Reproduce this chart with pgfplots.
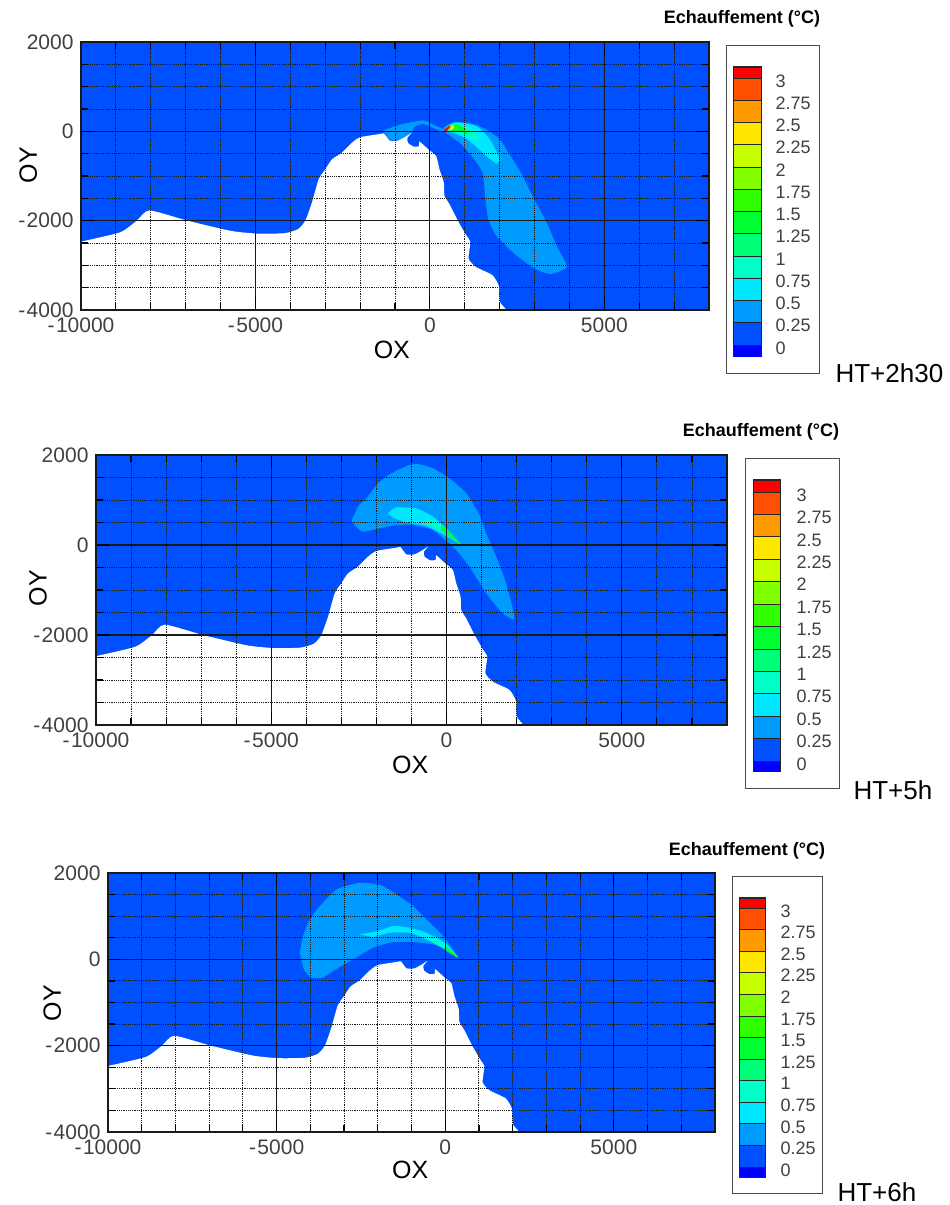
\documentclass[border=0pt]{standalone}
\usepackage{fontspec}
\setmainfont{Liberation Sans}
\usepackage{pgfplots}
\usepackage{pgfplotstable}
\pgfplotsset{compat=1.18}
\definecolor{lv0}{HTML}{0000FF}
\definecolor{lv1}{HTML}{0050FF}
\definecolor{lv2}{HTML}{009BFF}
\definecolor{lv3}{HTML}{00E8FF}
\definecolor{lv4}{HTML}{00FFC8}
\definecolor{lv5}{HTML}{00FF78}
\definecolor{lv6}{HTML}{00FF30}
\definecolor{lv7}{HTML}{30FF00}
\definecolor{lv8}{HTML}{80FF00}
\definecolor{lv9}{HTML}{C8FF00}
\definecolor{lv10}{HTML}{FFE600}
\definecolor{lv11}{HTML}{FF9B00}
\definecolor{lv12}{HTML}{FF5000}
\definecolor{lv13}{HTML}{FF0000}
\pgfplotstableread{
x y
-10600 -2570
-10000 -2470
-8875 -2260
-8400 -2000
-8040 -1770
-6950 -2000
-5700 -2230
-4930 -2290
-4160 -2280
-3780 -2190
-3570 -2000
-3380 -1590
-3190 -1075
-3000 -850
-2810 -630
-2525 -480
-2240 -260
-2000 -133
-1430 -60
-1310 -50
-1150 -207
-910 -207
-675 -110
-530 -37
-645 -148
-627 -260
-465 -340
-313 -333
-295 -230
-40 -407
180 -555
275 -850
400 -1150
418 -1444
560 -1630
800 -2000
1016 -2296
1158 -2480
1110 -2850
1320 -3037
1795 -3222
1985 -3480
2004 -3815
2194 -4000
2300 -4200
2300 -4800
-10600 -4800
-10600 -2570
}\coast
% panel 1
\pgfplotstableread{
x y
383 75
671 201
1150 187
1629 37
2012 -187
2251 -485
2587 -895
2970 -1492
3353 -2052
3640 -2574
3928 -3036
3449 -3193
2970 -3059
2395 -2723
1916 -2350
1677 -1977
1581 -1455
1514 -933
1245 -597
862 -261
383 0
}\aOuter
\pgfplotstableread{
x y
-1341 15
-862 149
-192 246
96 149
383 52
335 0
96 75
-192 164
-431 112
-527 -37
-766 -187
-1150 -187
-1245 -75
}\aWest
\pgfplotstableread{
x y
479 112
766 201
1341 112
1724 -187
1993 -597
1916 -724
1629 -560
1150 -224
766 -52
431 15
}\aCyan
\pgfplotstableread{
x y
479 97
766 171
1150 75
1437 -187
1245 -187
862 -37
479 15
}\aTeal
\pgfplotstableread{
x y
527 112
766 164
1006 60
1101 -75
862 0
527 22
}\aGreen
\pgfplotstableread{
x y
623 134
699 127
671 52
546 15
}\aYellow
\pgfplotstableread{
x y
402 22
546 127
575 112
479 0
}\aRed
% panel 2
\pgfplotstableread{
x y
-2716 518
-2526 852
-2289 1037
-1956 1370
-1576 1593
-1054 1778
-817 1800
-389 1704
85 1481
560 1148
940 667
1130 259
1415 -259
1700 -852
1937 -1630
1605 -1518
1130 -1074
655 -481
275 -111
-10 96
-389 333
-959 444
-1434 444
-1909 370
-2384 296
-2574 407
}\bOuter
\pgfplotstableread{
x y
-1671 704
-1434 837
-864 815
-389 630
-10 370
399 15
-10 200
-579 422
-1149 504
-1529 607
}\bCyan
\pgfplotstableread{
x y
-579 593
-199 481
399 15
-10 259
-389 407
-627 489
}\bTeal
\pgfplotstableread{
x y
-152 444
38 333
399 15
85 200
-152 333
}\bGreen
% panel 3
\pgfplotstableread{
x y
-4316 154
-4217 538
-4019 923
-3722 1230
-3227 1615
-2584 1769
-1940 1730
-1445 1500
-950 1230
-455 846
-59 538
386 38
40 231
-356 346
-950 400
-1544 400
-2138 269
-2732 0
-3326 -269
-3623 -423
-3970 -423
-4198 -231
}\cOuter
\pgfplotstableread{
x y
-2534 577
-1990 654
-1544 769
-1049 731
-554 615
-10 385
386 38
-10 231
-554 461
-1049 615
-1643 615
-2138 515
}\cCyan
\pgfplotstableread{
x y
-406 538
-10 346
386 38
-10 231
-455 446
}\cTeal
\pgfplotstableread{
x y
-10 308
188 192
386 38
40 192
}\cGreen
\newcommand{\hy}{-\kern1.5pt}
\pgfplotsset{
  field/.style={
    scale only axis, anchor=south west,
    xmin=-10000, xmax=8000, ymin=-4000, ymax=2000,
    scaled x ticks=false, scaled y ticks=false,
    axis on top, axis background/.style={fill=lv1},
    xtick={-10000,-5000,0,5000}, xticklabels={\hy10000,\hy5000,0,5000},
    ytick={-4000,-2000,0,2000}, yticklabels={\hy4000,\hy2000,0,2000},
    minor xtick={-9000,-8000,-7000,-6000,-4000,-3000,-2000,-1000,1000,2000,3000,4000,6000,7000},
    minor ytick={-3500,-3000,-2500,-1500,-1000,-500,500,1000,1500},
    grid=both,
    major grid style={black!90, line width=1.1pt},
    minor grid style={black!90, line width=0.9pt, dash pattern=on 1.2pt off 1pt},
    tick align=inside, major tick length=13pt, minor tick length=7pt,
    tick style={black, line width=1.2pt},
    axis line style={black!90, line width=1.4pt},
    ticklabel style={font=\fontsize{21}{21}\selectfont, text=black!75},
    xticklabel style={yshift=-4pt},
    yticklabel style={xshift=-4pt},
    label style={font=\fontsize{25}{25}\selectfont, text=black, anchor=center},
    xlabel=OX, ylabel=OY,
  },
  bar/.style={
    scale only axis, anchor=south west,
    xmin=0, xmax=1, xtick=\empty,
    ytick={0,0.25,0.5,0.75,1,1.25,1.5,1.75,2,2.25,2.5,2.75,3},
    yticklabels={0,0.25,0.5,0.75,1,1.25,1.5,1.75,2,2.25,2.5,2.75,3},
    yticklabel pos=right, major tick length=0pt,
    yticklabel style={font=\fontsize{18}{18}\selectfont, text=black!75, anchor=west, yshift=-3pt, xshift=#1},
    axis line style={black!85, line width=1pt},
    axis on top=false, clip=true,
  },
  cell/.style={draw=black!85, line width=0.8pt, fill=#1},
}
\newcommand{\cell}[3]{\addplot[cell=#1] coordinates {(0,#2) (1,#2) (1,#3) (0,#3)} -- cycle;}
\newcommand{\allcells}[2]{%
  \cell{lv0}{#1}{0}\cell{lv1}{0}{0.25}\cell{lv2}{0.25}{0.5}\cell{lv3}{0.5}{0.75}%
  \cell{lv4}{0.75}{1}\cell{lv5}{1}{1.25}\cell{lv6}{1.25}{1.5}\cell{lv7}{1.5}{1.75}%
  \cell{lv8}{1.75}{2}\cell{lv9}{2}{2.25}\cell{lv10}{2.25}{2.5}\cell{lv11}{2.5}{2.75}%
  \cell{lv12}{2.75}{3}\cell{lv13}{3}{#2}}
\newcommand{\reg}[2]{\addplot[fill=#1, draw=none, smooth, tension=0.35] table {#2};}
\newcommand{\ttl}{\bfseries\fontsize{18}{18}\selectfont}
\newcommand{\htf}{\fontsize{26}{26}\selectfont}
\begin{document}
\begin{tikzpicture}[x=1pt,y=1pt]
\useasboundingbox (0,0) rectangle (950,1205);
% ---------- panel 1
\begin{axis}[field, at={(81pt,895pt)}, width=628pt, height=268pt,
  xlabel style={at={(axis description cs:0.495,-0.149)}},
  ylabel style={at={(axis description cs:-0.084,0.541)}}]
\reg{lv2}{\aOuter}\reg{lv2}{\aWest}\reg{lv3}{\aCyan}\reg{lv4}{\aTeal}
\reg{lv6}{\aGreen}\reg{lv10}{\aYellow}\reg{lv13}{\aRed}
\reg{white}{\coast}
\end{axis}
\begin{axis}[bar=11pt, at={(733pt,848pt)}, width=28pt, height=290pt, ymin=-0.135, ymax=3.124]
\allcells{-0.135}{3.124}
\end{axis}
\draw[black!70, line width=1pt] (726,831) rectangle (819,1159);
\node[font=\ttl] at (742,1186) {Echauffement (°C)};
\node[font=\htf, anchor=west] at (832,832) {HT+2h30};
% ---------- panel 2
\begin{axis}[field, at={(96pt,480pt)}, width=631pt, height=270pt,
  xlabel style={at={(axis description cs:0.498,-0.148)}},
  ylabel style={at={(axis description cs:-0.092,0.507)}}]
\reg{lv2}{\bOuter}\reg{lv3}{\bCyan}\reg{lv4}{\bTeal}\reg{lv6}{\bGreen}
\reg{white}{\coast}
\end{axis}
\begin{axis}[bar=13pt, at={(753pt,433pt)}, width=27pt, height=292pt, ymin=-0.123, ymax=3.134]
\allcells{-0.123}{3.134}
\end{axis}
\draw[black!70, line width=1pt] (745,416) rectangle (839,746);
\node[font=\ttl] at (761,773) {Echauffement (°C)};
\node[font=\htf, anchor=west] at (850,415) {HT+5h};
% ---------- panel 3
\begin{axis}[field, at={(108pt,73pt)}, width=607pt, height=259pt,
  xlabel style={at={(axis description cs:0.498,-0.147)}},
  ylabel style={at={(axis description cs:-0.092,0.498)}}]
\reg{lv2}{\cOuter}\reg{lv3}{\cCyan}\reg{lv4}{\cTeal}\reg{lv6}{\cGreen}
\reg{white}{\coast}
\end{axis}
\begin{axis}[bar=12pt, at={(739pt,28pt)}, width=26pt, height=279pt, ymin=-0.116, ymax=3.116]
\allcells{-0.116}{3.116}
\end{axis}
\draw[black!70, line width=1pt] (732,11) rectangle (822,328);
\node[font=\ttl] at (747,354) {Echauffement (°C)};
\node[font=\htf, anchor=west] at (834,13) {HT+6h};
\end{tikzpicture}
\end{document}
